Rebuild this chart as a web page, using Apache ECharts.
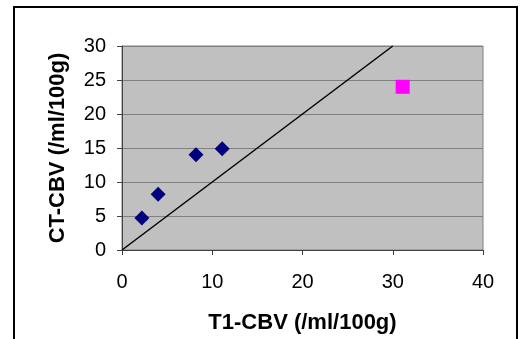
<!DOCTYPE html>
<html>
<head>
<meta charset="utf-8">
<script src="https://cdn.jsdelivr.net/npm/echarts@6/dist/echarts.min.js"></script>
<style>
  html, body { margin: 0; padding: 0; background: #fff; }
  #chart { width: 524px; height: 339px; }
</style>
</head>
<body>
<div id="chart"></div>
<script>
// 数据
const t1Cbv = [2.2, 4.0, 8.2, 11.1]
const ctCbv = [4.7, 8.2, 14.0, 14.9]
const outlierPoint = [31.1, 24.0]
const identityLine = [[0, 0], [30, 30]]
const xTicks = [0, 40, 10]   // min, max, interval
const yTicks = [0, 30, 5]

const font = '"Liberation Sans", Arial, sans-serif'

const myChart = echarts.init(document.getElementById('chart'))
myChart.setOption({
  animation: false,
  textStyle: { fontFamily: font },
  grid: {
    left: 122, top: 46, right: 41, bottom: 88,
    show: true,
    backgroundColor: '#c0c0c0',
    borderColor: '#808080',
    borderWidth: 1
  },
  // 外框
  graphic: [{
    type: 'rect',
    shape: { x: 14, y: 7, width: 503, height: 400 },
    style: { fill: 'none', stroke: '#000', lineWidth: 2 },
    silent: true
  }],
  xAxis: {
    type: 'value',
    min: xTicks[0], max: xTicks[1], interval: xTicks[2],
    name: 'T1-CBV (/ml/100g)',
    nameLocation: 'middle',
    nameGap: 62,
    nameTextStyle: { fontSize: 22, fontWeight: 'bold', color: '#000', fontFamily: font },
    axisLine: { lineStyle: { color: '#404040', width: 1 } },
    axisTick: { show: true, inside: false, length: 5, lineStyle: { color: '#404040' } },
    axisLabel: { fontSize: 20, color: '#000', margin: 22, fontFamily: font },
    splitLine: { show: false }
  },
  yAxis: {
    type: 'value',
    min: yTicks[0], max: yTicks[1], interval: yTicks[2],
    name: 'CT-CBV (/ml/100g)',
    nameLocation: 'middle',
    nameGap: 53,
    nameTextStyle: { fontSize: 22, fontWeight: 'bold', color: '#000', fontFamily: font },
    axisLine: { show: true, lineStyle: { color: '#404040', width: 1 } },
    axisTick: { show: true, inside: false, length: 5, lineStyle: { color: '#404040' } },
    axisLabel: { fontSize: 20, color: '#000', margin: 16, fontFamily: font },
    splitLine: { show: true, lineStyle: { color: '#808080', width: 1 } }
  },
  series: [
    {
      type: 'line',
      data: identityLine,
      showSymbol: false,
      symbol: 'none',
      lineStyle: { color: '#000', width: 1.5 },
      z: 2
    },
    {
      type: 'scatter',
      data: t1Cbv.map((x, i) => [x, ctCbv[i]]),
      symbol: 'diamond',
      symbolSize: 15,
      itemStyle: { color: '#000080', opacity: 1 },
      z: 3
    },
    {
      type: 'scatter',
      data: [outlierPoint],
      symbol: 'rect',
      symbolSize: 14,
      itemStyle: { color: '#ff00ff', opacity: 1 },
      z: 3
    }
  ]
})
</script>
</body>
</html>
